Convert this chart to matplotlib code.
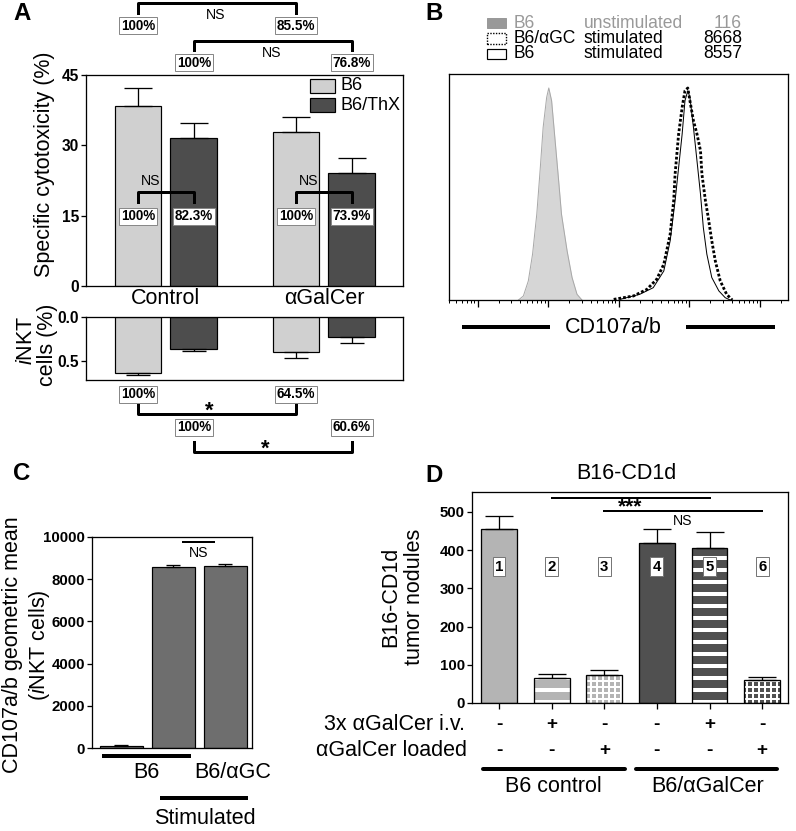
"""
Four panel figure: cytotoxicity / iNKT (A), CD107a/b histogram (B),
CD107a/b geometric mean (C) and B16-CD1d tumor nodules (D).
"""
import numpy as np
import matplotlib
matplotlib.use("Agg")
import matplotlib.pyplot as plt
from matplotlib.lines import Line2D
from matplotlib.patches import Rectangle

plt.rcParams['font.family'] = ['Liberation Sans', 'DejaVu Sans']
plt.rcParams['mathtext.fontset'] = 'custom'
plt.rcParams['mathtext.rm'] = 'Liberation Sans'
plt.rcParams['mathtext.it'] = 'Liberation Sans:italic'

# ---- panel A data ----
groups_a = ['Control', 'αGalCer']
cyto_b6 = [38.3, 32.8]
cyto_b6_sem = [3.9, 3.2]
cyto_thx = [31.5, 24.2]
cyto_thx_sem = [3.3, 3.0]
inkt_b6 = [0.627, 0.40]
inkt_b6_sem = [0.025, 0.06]
inkt_thx = [0.365, 0.225]
inkt_thx_sem = [0.015, 0.065]
pct_within = [['100%', '82.3%'], ['100%', '73.9%']]
pct_cyto_b6 = ['100%', '85.5%']
pct_cyto_thx = ['100%', '76.8%']
pct_inkt_b6 = ['100%', '64.5%']
pct_inkt_thx = ['100%', '60.6%']

# ---- panel B data (log10 intensity, % of max) ----
unstim_x = [1.58, 1.65, 1.72, 1.78, 1.84, 1.89, 1.93, 1.98, 2.01, 2.05,
            2.10, 2.15, 2.19, 2.27, 2.34, 2.41, 2.48]
unstim_y = [0, 1.9, 9, 21.6, 40.5, 62.5, 81.4, 95.6, 100, 94,
            75.1, 56.2, 40.5, 23.1, 10.6, 2.7, 0]
agc_x = [2.93, 3.21, 3.40, 3.54, 3.64, 3.73, 3.78, 3.80, 3.85, 3.90, 3.94,
         3.98, 4.01, 4.06, 4.11, 4.16, 4.18, 4.23, 4.27, 4.32, 4.37, 4.44,
         4.53, 4.61]
agc_y = [0.3, 1.9, 5, 9.8, 16.9, 31, 46.8, 59.4, 78.3, 90.9, 98.7,
         100, 94, 84.6, 78.3, 70.4, 59.4, 46.8, 38.9, 27.9, 18.4, 9,
         2.7, 0]
stim_x = [3.02, 3.30, 3.49, 3.64, 3.73, 3.80, 3.85, 3.90, 3.94, 3.98, 4.01,
          4.06, 4.11, 4.16, 4.20, 4.25, 4.32, 4.42, 4.51, 4.58]
stim_y = [0.3, 2.7, 5.8, 13.7, 27.9, 46.8, 62.5, 78.3, 94, 98.7, 95.6,
          81.4, 65.7, 49.9, 34.2, 21.6, 10.6, 4.3, 1.1, 0]
legend_b = [('B6', 'unstimulated', '116'),
            ('B6/αGC', 'stimulated', '8668'),
            ('B6', 'stimulated', '8557')]

# ---- panel C data ----
gm_values = [116, 8560, 8630]
gm_sem = [20, 110, 90]

# ---- panel D data ----
nodules = [456, 66, 73, 418, 405, 60]
nodules_sem = [32, 11, 14, 37, 42, 9]
ivs = ['-', '+', '-', '-', '+', '-']
loaded = ['-', '-', '+', '-', '-', '+']
box_ids = ['1', '2', '3', '4', '5', '6']

W, H = 796, 831
fig = plt.figure(figsize=(W / 72, H / 72), dpi=72)
FS = 21.5  # main label size


def add_ax(l, t, r, b):
    return fig.add_axes([l / W, 1 - b / H, (r - l) / W, (b - t) / H])


def ftext(x, y, s, **kw):
    kw.setdefault('ha', 'center')
    kw.setdefault('va', 'center')
    fig.text(x / W, 1 - y / H, s, **kw)


def fline(x1, x2, y, lw=4):
    fig.add_artist(Line2D([x1 / W, x2 / W], [1 - y / H, 1 - y / H],
                          lw=lw, color='k', solid_capstyle='butt'))


def style_ax(ax, lsize=15.5):
    for s in ax.spines.values():
        s.set_linewidth(1.3)
    ax.tick_params(axis='y', length=5, width=1.3, labelsize=lsize, pad=2)
    for lab in ax.get_yticklabels():
        lab.set_fontweight('bold')


pbox = dict(boxstyle='square,pad=0.12', fc='white', ec='#888888', lw=1)
PS = 13.5

# ================= panel A =================
light_a, dark_a = '#d0d0d0', '#4d4d4d'
xa = np.arange(len(groups_a))
xb6 = xa - 0.177
xthx = xa + 0.177
bw = 0.297

ax = add_ax(86, 75, 403, 286)
ekw = dict(elinewidth=1.3, capthick=1.3, ecolor='k')
ax.bar(xb6, cyto_b6, bw, color=light_a, edgecolor='k', lw=1.2,
       yerr=[np.zeros(2), cyto_b6_sem], capsize=14, error_kw=ekw)
ax.bar(xthx, cyto_thx, bw, color=dark_a, edgecolor='k', lw=1.2,
       yerr=[np.zeros(2), cyto_thx_sem], capsize=14, error_kw=ekw)
ax.set_xlim(-0.506, 1.5)
ax.set_ylim(0, 45)
ax.set_yticks([0, 15, 30, 45])
ax.set_xticks(xa)
ax.set_xticklabels(groups_a, fontsize=FS)
ax.tick_params(axis='x', length=0, pad=2)
style_ax(ax)

# brackets inside the bars
for i in range(2):
    xl, xr = xb6[i], xthx[i]
    ax.plot([xl, xl, xr, xr], [17.9, 20, 20, 17.9], color='k', lw=3)
    ax.text((xl + xr) / 2 - 0.1, 22.4, 'NS', ha='center', va='center', fontsize=14)
    ax.text(xl, 14.9, pct_within[i][0], ha='center', va='center',
            fontsize=PS, fontweight='bold', bbox=pbox)
    ax.text(xr, 14.9, pct_within[i][1], ha='center', va='center',
            fontsize=PS, fontweight='bold', bbox=pbox)

# brackets above the axes
for xs, yb, yt, ylab, yns, labs in [(xb6, 58.2, 60.4, 55.5, 57.8, pct_cyto_b6),
                                    (xthx, 50.3, 52.3, 47.6, 49.7, pct_cyto_thx)]:
    ax.plot([xs[0], xs[0], xs[1], xs[1]], [yb, yt, yt, yb], color='k', lw=3,
            clip_on=False)
    ax.text(xs.mean() - 0.01, yns, 'NS', ha='center', va='center', fontsize=14)
    for j in range(2):
        ax.text(xs[j], ylab, labs[j], ha='center', va='center', fontsize=PS,
                fontweight='bold', bbox=pbox, clip_on=False)

# legend
for (y0, col, lab) in [(79, light_a, 'B6'), (98, dark_a, 'B6/ThX')]:
    fig.add_artist(Rectangle((310 / W, 1 - (y0 + 14) / H), 25 / W, 14 / H,
                             fc=col, ec='k', lw=1.2))
    ftext(340, y0 + 7, lab, ha='left', fontsize=18)

ftext(45, 164, 'Specific cytotoxicity (%)', rotation=90, fontsize=FS)

# iNKT bottom axes
axb = add_ax(86, 317, 403, 380)
axb.bar(xb6, inkt_b6, bw, color=light_a, edgecolor='k', lw=1.2,
        yerr=[np.zeros(2), inkt_b6_sem], capsize=12, error_kw=ekw)
axb.bar(xthx, inkt_thx, bw, color=dark_a, edgecolor='k', lw=1.2,
        yerr=[np.zeros(2), inkt_thx_sem], capsize=12, error_kw=ekw)
axb.set_xlim(-0.506, 1.5)
axb.set_ylim(0.71, 0)
axb.set_yticks([0, 0.5])
axb.set_yticklabels(['0.0', '0.5'])
axb.set_xticks([])
style_ax(axb)
for xs, yb, yt, ylab, ystar, labs in [(xb6, 1.098, 0.985, 0.872, 1.06, pct_inkt_b6),
                                      (xthx, 1.527, 1.414, 1.245, 1.49, pct_inkt_thx)]:
    axb.plot([xs[0], xs[0], xs[1], xs[1]], [yt, yb, yb, yt], color='k', lw=3,
             clip_on=False)
    axb.text(xs.mean() - 0.05, ystar, '*', ha='center', va='center',
             fontsize=22, fontweight='bold')
    for j in range(2):
        axb.text(xs[j], ylab, labs[j], ha='center', va='center', fontsize=PS,
                 fontweight='bold', bbox=pbox, clip_on=False)
ftext(27, 340, r'$\mathit{i}$NKT', rotation=90, fontsize=FS)
ftext(47, 345, 'cells (%)', rotation=90, fontsize=FS)

# ================= panel B =================
axh = add_ax(449, 74, 788, 300)
ux = 10 ** np.array(unstim_x)
axh.fill_between(ux, unstim_y, color='#d6d6d6', lw=0)
axh.plot(ux, unstim_y, color='#a8a8a8', lw=1)
axh.plot(10 ** np.array(stim_x), stim_y, color='k', lw=1)
axh.plot(10 ** np.array(agc_x), agc_y, color='k', lw=2.8, ls=(0, (1, 0.7)))
axh.set_xscale('log')
axh.set_xlim(10 ** 0.596, 10 ** 5.40)
axh.set_ylim(0, 106.6)
axh.set_yticks([])
axh.xaxis.set_major_locator(matplotlib.ticker.LogLocator(base=10, numticks=10))
axh.xaxis.set_minor_locator(matplotlib.ticker.LogLocator(base=10, subs=np.arange(2, 10),
                                                         numticks=20))
axh.xaxis.set_major_formatter(matplotlib.ticker.NullFormatter())
axh.xaxis.set_minor_formatter(matplotlib.ticker.NullFormatter())
axh.tick_params(axis='x', which='major', length=7, width=1.3)
axh.tick_params(axis='x', which='minor', length=3, width=1)
for s in axh.spines.values():
    s.set_linewidth(1.3)

leg_styles = [dict(fc='#999999', ec='#999999', lw=1, ls='-'),
              dict(fc='white', ec='k', lw=1.4, ls=(0, (1, 1))),
              dict(fc='white', ec='k', lw=1.2, ls='-')]
for k, (row, st) in enumerate(zip(legend_b, leg_styles)):
    y = 23 + 15.5 * k
    col = '#999999' if k == 0 else 'k'
    fig.add_artist(Rectangle((487 / W, 1 - (y + 5) / H), 19 / W, 10 / H, **st))
    ftext(514, y, row[0], ha='left', fontsize=17.5, color=col)
    ftext(584, y, row[1], ha='left', fontsize=17.5, color=col)
    ftext(742, y, row[2], ha='right', fontsize=17.5, color=col)
ftext(613, 327, 'CD107a/b', fontsize=FS)
fline(462, 550, 327)
fline(686, 775, 327)

# ================= panel C =================
axc = add_ax(92, 537, 252, 748)
xc = np.arange(len(gm_values))
axc.bar(xc, gm_values, 0.83, color='#6e6e6e', edgecolor='k', lw=1.2,
        yerr=[np.zeros(3), gm_sem], capsize=7, error_kw=ekw)
axc.set_xlim(-0.567, 2.51)
axc.set_ylim(0, 10000)
axc.set_yticks(np.arange(0, 10001, 2000))
axc.set_xticks([])
style_ax(axc, 15)
axc.plot([1.18, 1.78], [9763, 9763], color='k', lw=2)
axc.text(1.48, 9240, 'NS', ha='center', va='center', fontsize=14)
ftext(13, 645, 'CD107a/b geometric mean', rotation=90, fontsize=FS)
ftext(40, 645, r'($\mathit{i}$NKT cells)', rotation=90, fontsize=FS)
fline(102, 191, 756)
ftext(146, 773, 'B6', fontsize=FS)
ftext(233, 773, 'B6/αGC', fontsize=FS)
fline(160, 248, 798)
ftext(205, 818, 'Stimulated', fontsize=FS)

# ================= panel D =================
axd = add_ax(472, 492, 788, 703)
xd = np.arange(len(nodules))
light_d, dark_d = '#b4b4b4', '#505050'
fills = [light_d, light_d, light_d, dark_d, dark_d, dark_d]
hatches = [None, '-', '++', None, '-', '++']
hlw = [1, 4, 2, 1, 4, 2]
for i in xd:
    plt.rcParams['hatch.linewidth'] = hlw[i]
    axd.bar(xd[i], nodules[i], 0.68, color=fills[i], edgecolor='white',
            lw=0, hatch=hatches[i])
axd.bar(xd, nodules, 0.68, fill=False, edgecolor='k', lw=1.3,
        yerr=[np.zeros(6), nodules_sem], capsize=14, error_kw=ekw)
axd.set_xlim(-0.513, 5.49)
axd.set_ylim(0, 552)
axd.set_yticks(np.arange(0, 501, 100))
axd.set_xticks(xd)
axd.set_xticklabels([])
axd.tick_params(axis='x', length=6, width=1.3)
style_ax(axd, 15)
for i in xd:
    axd.text(xd[i], 357, box_ids[i], ha='center', va='center', fontsize=15,
             fontweight='bold', bbox=dict(boxstyle='square,pad=0.15', fc='white',
                                          ec='#777777', lw=1))
axd.plot([1, 4], [537, 537], color='k', lw=2)
axd.plot([2, 5], [503, 503], color='k', lw=2)
axd.text(2.49, 512, '***', ha='center', va='center', fontsize=21, fontweight='bold')
axd.text(3.48, 476, 'NS', ha='center', va='center', fontsize=14)
axd.text(0.49, 1.09, 'B16-CD1d', transform=axd.transAxes, ha='center',
         va='center', fontsize=FS)

tr = axd.get_xaxis_transform()
for i in xd:
    axd.text(xd[i], -0.104, ivs[i], transform=tr, ha='center', va='center',
             fontsize=19, fontweight='bold')
    axd.text(xd[i], -0.223, loaded[i], transform=tr, ha='center', va='center',
             fontsize=19, fontweight='bold')
ftext(465, 725, '3x αGalCer i.v.', ha='right', fontsize=FS)
ftext(467, 750, 'αGalCer loaded', ha='right', fontsize=FS)
for x0, x1 in [(-0.30, 2.40), (2.60, 5.29)]:
    axd.plot([x0, x1], [-0.313, -0.313], transform=tr, color='k', lw=4,
             clip_on=False, solid_capstyle='round')
axd.text(1.03, -0.398, 'B6 control', transform=tr, ha='center', va='center',
         fontsize=FS)
axd.text(3.96, -0.398, 'B6/αGalCer', transform=tr, ha='center', va='center',
         fontsize=FS)
ftext(391, 597, 'B16-CD1d', rotation=90, fontsize=FS)
ftext(414, 597, 'tumor nodules', rotation=90, fontsize=FS)

# panel letters
for lab, x, y in [('A', 22, 13), ('B', 434, 13), ('C', 22, 474), ('D', 434, 475)]:
    ftext(x, y, lab, fontsize=24, fontweight='bold')

fig.savefig('out.png', dpi=72)
